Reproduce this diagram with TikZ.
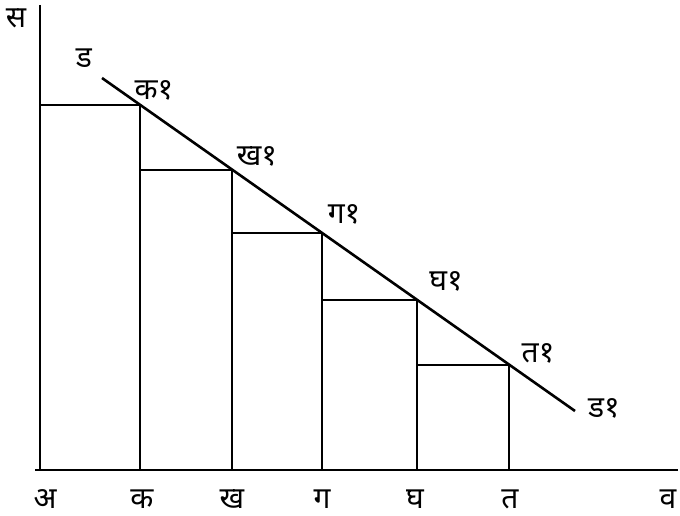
\documentclass[tikz,border=0pt]{standalone}
\usepackage{fontspec}
\newfontfamily\dev[Script=Devanagari]{Noto Sans}
\begin{document}
\begin{tikzpicture}[x=1pt,y=-1pt,
  axis/.style={line width=2.2pt},
  edge/.style={line width=1.3pt},
  slope/.style={line width=2.6pt},
  lbl/.style={font=\dev\fontsize{30}{30}\selectfont, inner sep=0pt}]
\useasboundingbox (0,0) rectangle (680,516);
% axes
\coordinate (O) at (40,470);
\coordinate (ytop) at (40,5);
\coordinate (xstart) at (35,470);
\coordinate (xend) at (678,470);
\draw[axis] (ytop) -- (O);
\draw[axis] (xstart) -- (xend);
% points on the sloping line
\coordinate (d) at (102,78);
\coordinate (k1) at (140,105);
\coordinate (kh1) at (232,170);
\coordinate (g1) at (322,233);
\coordinate (gh1) at (417,300);
\coordinate (t1) at (509,365);
\coordinate (d1) at (575,411);
% base points
\coordinate (k) at (140,470);
\coordinate (kh) at (232,470);
\coordinate (g) at (322,470);
\coordinate (gh) at (417,470);
\coordinate (t) at (509,470);
% verticals
\draw[edge] (k) -- (k1);
\draw[edge] (kh) -- (kh1);
\draw[edge] (g) -- (g1);
\draw[edge] (gh) -- (gh1);
\draw[edge] (t) -- (t1);
% horizontals
\draw[edge] (O |- k1) -- (k1);
\draw[edge] (k1 |- kh1) -- (kh1);
\draw[edge] (kh1 |- g1) -- (g1);
\draw[edge] (g1 |- gh1) -- (gh1);
\draw[edge] (gh1 |- t1) -- (t1);
% sloping line
\draw[slope] (d) -- (d1);
% labels
\node[lbl] (ls) at (16,18) {स};
\node[lbl] (ld) at (84,58) {ड};
\node[lbl] (lk1) at (154,90) {क१};
\node[lbl] (lkh1) at (257,156) {ख१};
\node[lbl] (lg1) at (344,214) {ग१};
\node[lbl] (lgh1) at (446,281) {घ१};
\node[lbl] (lt1) at (538,353) {त१};
\node[lbl] (ld1) at (604,408) {ड१};
\node[lbl] (la) at (45,499) {अ};
\node[lbl] (lk) at (142,499) {क};
\node[lbl] (lkh) at (232,499) {ख};
\node[lbl] (lg) at (322,499) {ग};
\node[lbl] (lgh) at (415,499) {घ};
\node[lbl] (lt) at (510,499) {त};
\node[lbl] (lv) at (668,499) {व};
\end{tikzpicture}
\end{document}
